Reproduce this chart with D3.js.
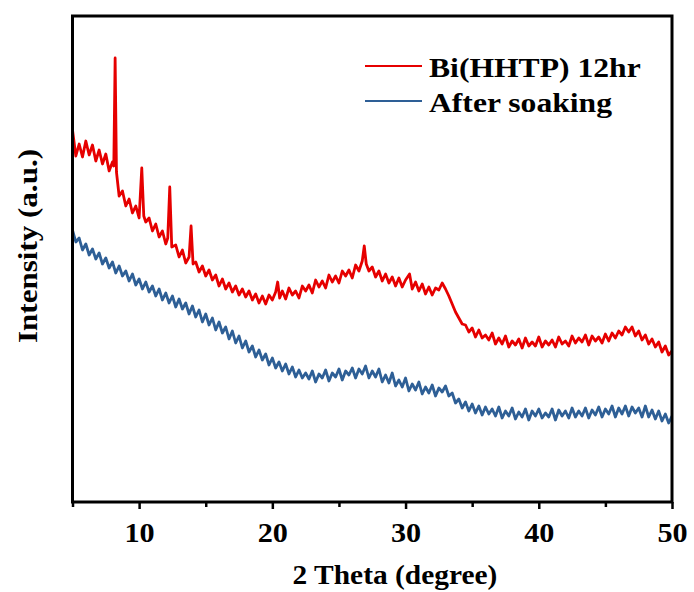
<!DOCTYPE html>
<html>
<head>
  <meta charset="utf-8">
  <title>XRD Bi(HHTP)</title>
  <style>
    body { margin: 0; background: #fff; }
    text { font-family: "Liberation Serif", "Times New Roman", serif; font-weight: bold; fill: #000; }
  </style>
</head>
<body>
  <svg width="694" height="592"></svg>
  <script src="https://d3js.org/d3.v7.min.js"></script>
  <script>
    // data: [2 theta, intensity (a.u.)]
    var seriesNames = ["Bi(HHTP) 12hr", "After soaking"];
    var seriesColors = ["#e60000", "#2e5f96"];
    var xTicks = [10, 20, 30, 40, 50];
    var xMinorTicks = [5, 15, 25, 35, 45];

    var bihhtp = [
      [5.00,372],[5.25,346],[5.50,358],[5.75,345],[6.00,361],[6.25,347],[6.50,357],[6.75,341],
      [7.00,352],[7.25,338],[7.50,348],[7.75,331],[8.00,340],[8.10,336],[8.20,444],[8.30,330],
      [8.50,306],[8.75,311],[9.00,296],[9.25,303],[9.50,289],[9.75,296],[10.00,284],[10.20,334],
      [10.35,286],[10.50,280],[10.75,284],[11.00,271],[11.25,278],[11.50,265],[11.75,271],[12.00,258],
      [12.15,264],[12.30,315],[12.45,255],[12.75,257],[13.00,245],[13.25,252],[13.50,239],[13.75,245],
      [13.90,276],[14.05,238],[14.25,240],[14.50,230],[14.75,236],[15.00,226],[15.25,232],[15.50,222],
      [15.75,227],[16.00,216],[16.25,223],[16.50,213],[16.75,219],[17.00,210],[17.25,216],[17.50,207],
      [17.75,213],[18.00,205],[18.25,211],[18.50,202],[18.75,208],[19.00,199],[19.25,206],[19.50,198],
      [19.75,207],[20.00,202],[20.25,210],[20.40,220],[20.55,204],[20.75,211],[21.00,203],[21.25,214],
      [21.50,207],[21.75,211],[22.00,204],[22.25,216],[22.50,211],[22.75,217],[23.00,209],[23.25,222],
      [23.50,215],[23.75,221],[24.00,214],[24.25,227],[24.50,220],[24.75,226],[25.00,219],[25.25,231],
      [25.50,226],[25.75,232],[26.00,224],[26.25,237],[26.50,231],[26.75,241],[26.90,256],[27.05,238],
      [27.25,231],[27.50,235],[27.75,225],[28.00,231],[28.25,221],[28.50,228],[28.75,219],[29.00,225],
      [29.25,216],[29.50,224],[29.75,215],[30.00,222],[30.30,228],[30.50,213],[30.75,220],[31.00,211],
      [31.25,218],[31.50,208],[31.75,215],[32.00,207],[32.25,214],[32.50,212],[32.75,219],[33.00,213],
      [33.25,206],[33.50,198],[33.75,190],[34.00,184],[34.25,178],[34.50,177],[34.75,170],[35.00,174],
      [35.25,165],[35.50,172],[35.75,164],[36.00,167],[36.25,162],[36.50,169],[36.75,158],[37.00,164],
      [37.25,158],[37.50,166],[37.75,155],[38.00,161],[38.25,157],[38.50,163],[38.75,154],[39.00,164],
      [39.25,156],[39.50,160],[39.75,156],[40.00,165],[40.25,155],[40.50,161],[40.75,157],[41.00,162],
      [41.25,155],[41.50,165],[41.75,158],[42.00,161],[42.25,156],[42.50,166],[42.75,159],[43.00,164],
      [43.25,160],[43.50,167],[43.75,157],[44.00,166],[44.25,161],[44.50,165],[44.75,159],[45.00,168],
      [45.25,161],[45.50,169],[45.75,164],[46.00,171],[46.25,167],[46.50,175],[46.75,170],[47.00,175],
      [47.25,166],[47.50,171],[47.75,162],[48.00,167],[48.25,158],[48.50,163],[48.75,155],[49.00,160],
      [49.25,150],[49.50,156],[49.75,147],[50.00,151]
    ];

    var soaked = [
      [5.00,272],[5.25,260],[5.50,264],[5.75,252],[6.00,258],[6.25,247],[6.50,253],[6.75,243],
      [7.00,249],[7.25,238],[7.50,244],[7.75,234],[8.00,240],[8.25,229],[8.50,236],[8.75,226],
      [9.00,231],[9.25,221],[9.50,228],[9.75,217],[10.00,223],[10.25,213],[10.50,220],[10.75,210],
      [11.00,216],[11.25,206],[11.50,213],[11.75,202],[12.00,209],[12.25,199],[12.50,206],[12.75,195],
      [13.00,203],[13.25,193],[13.50,199],[13.75,188],[14.00,196],[14.25,185],[14.50,192],[14.75,180],
      [15.00,188],[15.25,177],[15.50,184],[15.75,172],[16.00,180],[16.25,169],[16.50,175],[16.75,163],
      [17.00,171],[17.25,159],[17.50,166],[17.75,154],[18.00,161],[18.25,150],[18.50,156],[18.75,145],
      [19.00,152],[19.25,142],[19.50,148],[19.75,137],[20.00,144],[20.25,134],[20.50,140],[20.75,131],
      [21.00,138],[21.25,128],[21.50,135],[21.75,125],[22.00,132],[22.25,124],[22.50,129],[22.75,123],
      [23.00,131],[23.25,120],[23.50,128],[23.75,124],[24.00,132],[24.25,121],[24.50,129],[24.75,125],
      [25.00,133],[25.25,122],[25.50,131],[25.75,127],[26.00,134],[26.25,124],[26.50,133],[26.75,128],
      [27.00,136],[27.25,124],[27.50,131],[27.75,125],[28.00,133],[28.25,120],[28.50,127],[28.75,119],
      [29.00,129],[29.25,116],[29.50,122],[29.75,115],[30.00,124],[30.25,111],[30.50,118],[30.75,112],
      [31.00,120],[31.25,108],[31.50,115],[31.75,109],[32.00,117],[32.25,106],[32.50,114],[32.75,110],
      [33.00,116],[33.25,106],[33.50,109],[33.75,99],[34.00,103],[34.25,94],[34.50,100],[34.75,91],
      [35.00,98],[35.25,89],[35.50,96],[35.75,87],[36.00,95],[36.25,88],[36.50,93],[36.75,86],
      [37.00,95],[37.25,84],[37.50,91],[37.75,86],[38.00,94],[38.25,83],[38.50,90],[38.75,85],
      [39.00,93],[39.25,82],[39.50,91],[39.75,86],[40.00,93],[40.25,84],[40.50,89],[40.75,85],
      [41.00,93],[41.25,82],[41.50,92],[41.75,86],[42.00,91],[42.25,84],[42.50,94],[42.75,85],
      [43.00,91],[43.25,86],[43.50,94],[43.75,84],[44.00,92],[44.25,87],[44.50,95],[44.75,85],
      [45.00,93],[45.25,88],[45.50,96],[45.75,85],[46.00,94],[46.25,88],[46.50,96],[46.75,86],
      [47.00,95],[47.25,89],[47.50,94],[47.75,85],[48.00,96],[48.25,85],[48.50,92],[48.75,83],
      [49.00,91],[49.25,81],[49.50,88],[49.75,79],[50.00,86]
    ];

    var series = [bihhtp, soaked];

    // layout
    var svg = d3.select("svg");
    var pLeft = 72.5, pRight = 672, pTop = 16, pBottom = 502;
    var stretch = 1.12; // the picture's lettering is a bit wide

    var x = d3.scaleLinear().domain([5, 50]).range([pLeft, pRight]);
    var y = d3.scaleLinear().domain([0, 486]).range([pBottom, pTop]);

    // curves, clipped to the frame
    svg.append("clipPath").attr("id", "plot")
      .append("rect").attr("x", pLeft).attr("y", pTop)
      .attr("width", pRight - pLeft).attr("height", pBottom - pTop);

    var line = d3.line()
      .x(function (d) { return x(d[0]); })
      .y(function (d) { return y(d[1]); });

    svg.append("g").attr("clip-path", "url(#plot)")
      .selectAll("path")
      .data(series)
      .enter()
      .append("path")
      .attr("d", line)
      .attr("fill", "none")
      .attr("stroke", function (d, i) { return seriesColors[i]; })
      .attr("stroke-width", 2.8)
      .attr("stroke-linejoin", "round");

    // x axis with major and minor ticks
    var xAxis = svg.append("g")
      .attr("transform", "translate(0," + pBottom + ")")
      .call(d3.axisBottom(x).tickValues(xTicks).tickSize(7).tickFormat(d3.format("d")));
    xAxis.select(".domain").remove();
    xAxis.selectAll("line").attr("stroke", "#000").attr("stroke-width", 2.5);
    xAxis.selectAll("text")
      .attr("y", 40).attr("dy", null)
      .attr("transform", "scale(" + stretch + ",1)")
      .style("font-size", "27px")
      .style("font-family", "'Liberation Serif', serif")
      .style("font-weight", "bold");

    var xMinor = svg.append("g")
      .attr("transform", "translate(0," + pBottom + ")")
      .call(d3.axisBottom(x).tickValues(xMinorTicks).tickSize(5).tickFormat(""));
    xMinor.select(".domain").remove();
    xMinor.selectAll("line").attr("stroke", "#000").attr("stroke-width", 2.5);

    // frame
    svg.append("rect")
      .attr("x", pLeft).attr("y", pTop)
      .attr("width", pRight - pLeft).attr("height", pBottom - pTop)
      .attr("fill", "none").attr("stroke", "#000").attr("stroke-width", 3);

    // axis titles
    svg.append("text")
      .attr("transform", "translate(395,584) scale(1.09,1)")
      .attr("text-anchor", "middle")
      .style("font-size", "27px")
      .text("2 Theta (degree)");

    svg.append("text")
      .attr("transform", "translate(37,246) rotate(-90) scale(1.15,1)")
      .attr("text-anchor", "middle")
      .style("font-size", "27px")
      .text("Intensity (a.u.)");

    // legend
    var legend = svg.append("g").selectAll("g")
      .data(seriesNames)
      .enter()
      .append("g")
      .attr("transform", function (d, i) { return "translate(365," + (66 + i * 35) + ")"; });

    legend.append("line")
      .attr("x1", 0).attr("x2", 57)
      .attr("stroke", function (d, i) { return seriesColors[i]; })
      .attr("stroke-width", 2);

    legend.append("text")
      .attr("transform", "translate(64,11) scale(1.13,1)")
      .style("font-size", "28px")
      .text(function (d) { return d; });
  </script>
</body>
</html>
